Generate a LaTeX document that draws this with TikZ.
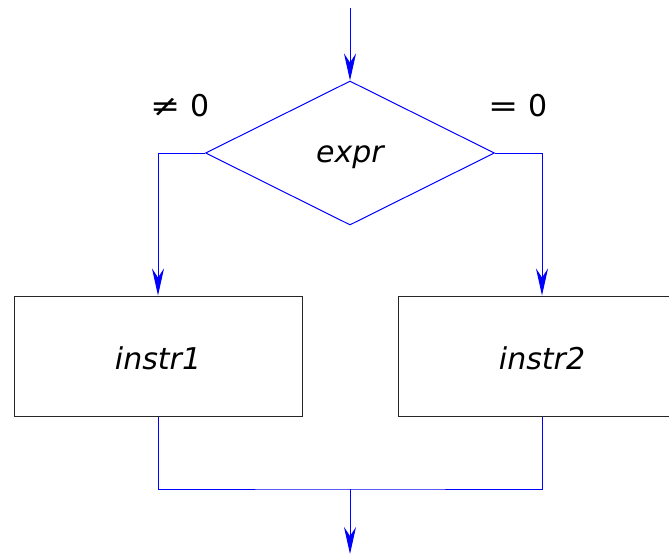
\documentclass[tikz,border=0pt]{standalone}
\usepackage{fontspec}
\setmainfont{DejaVu Sans}
\usetikzlibrary{shapes.geometric,arrows.meta}
\begin{document}
\begin{tikzpicture}[x=1pt,y=-1pt,
  font=\fontsize{30}{34}\selectfont,
  flow/.style={draw=blue,line width=1pt},
  arr/.style={flow,-{Stealth[length=27pt,width=12pt,inset=9pt]}},
  box/.style={draw=black!85,line width=1pt,minimum width=288pt,minimum height=120pt,inner sep=0pt},
  test/.style={diamond,draw=blue,line width=1pt,minimum width=289pt,minimum height=144pt,inner sep=0pt},
  lbl/.style={inner sep=0pt}]
\useasboundingbox (0,0) rectangle (669,555);
\clip (0,0) rectangle (669,555);
\coordinate (top) at (350,8);
\node[test] (d) at (350,153) {};
\node[lbl] (dt) at (350,157) {\itshape expr};
\node[box] (b1) at (158,356) {};
\node[lbl] (b1t) at (158,358) {\itshape instr1};
\node[box] (b2) at (542,356) {};
\node[lbl] (b2t) at (542,358) {\itshape instr2};
\node[lbl] (ne) at (180,106) {\scalebox{1.2}[1]{≠}\,\,0};
\node[lbl] (eq) at (518,106) {\scalebox{1.2}[1]{=}\,\,0};
\coordinate (m) at (350,489);
\coordinate (bot) at (350,554);
\draw[arr] (top) -- (d.north);
\draw[arr] (d.west) -| (b1.north);
\draw[arr] (d.east) -| (b2.north);
\draw[flow] (b1.south) |- (m) -| (b2.south);
\draw[arr] (m) -- (bot);
\end{tikzpicture}
\end{document}
